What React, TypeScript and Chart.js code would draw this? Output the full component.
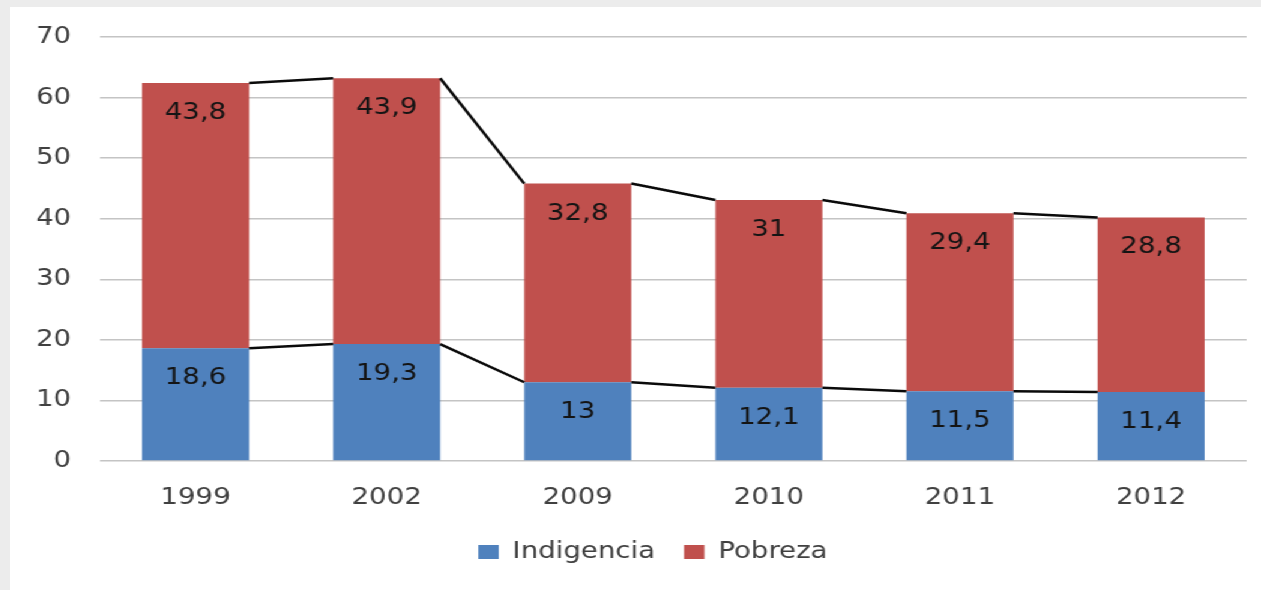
import { useEffect, useRef } from 'react';
import { Chart, registerables } from 'chart.js';

Chart.register(...registerables);

const categories = ['1999', '2002', '2009', '2010', '2011', '2012'];
const indigencia = [18.6, 19.3, 13, 12.1, 11.5, 11.4];
const pobreza = [43.8, 43.9, 32.8, 31, 29.4, 28.8];
const yMin = 0;
const yMax = 70;
const yStep = 10;

const CANVAS_W = 1042;
const CANVAS_H = 583;
const STRETCH = 1251 / CANVAS_W;
const FONT = '"DejaVu Sans", Verdana, sans-serif';

const overlayPlugin = {
  id: 'seriesLinesAndLabels',
  afterDatasetsDraw(chart: any) {
    const ctx = chart.ctx;
    ctx.save();
    ctx.strokeStyle = '#0a0a0a';
    ctx.lineWidth = 2.5;
    chart.data.datasets.forEach((_ds: any, di: number) => {
      const meta = chart.getDatasetMeta(di);
      for (let j = 0; j < meta.data.length - 1; j++) {
        const a = meta.data[j];
        const b = meta.data[j + 1];
        ctx.beginPath();
        ctx.moveTo(a.x + a.width / 2, a.y);
        ctx.lineTo(b.x - b.width / 2, b.y);
        ctx.stroke();
      }
    });
    ctx.font = `23px ${FONT}`;
    ctx.fillStyle = '#141414';
    ctx.textAlign = 'center';
    ctx.textBaseline = 'middle';
    chart.data.datasets.forEach((ds: any, di: number) => {
      const meta = chart.getDatasetMeta(di);
      meta.data.forEach((el: any, j: number) => {
        ctx.fillText(String(ds.data[j]).replace('.', ','), el.x, el.y + 30);
      });
    });
    ctx.restore();
  },
};

export default function App() {
  const ref = useRef<HTMLCanvasElement | null>(null);

  useEffect(() => {
    if (!ref.current) return;
    const chart = new Chart(ref.current, {
      type: 'bar',
      data: {
        labels: categories,
        datasets: [
          {
            label: 'Indigencia',
            data: indigencia,
            backgroundColor: '#4f81bd',
            borderWidth: 0,
            barPercentage: 0.56,
            categoryPercentage: 1,
          },
          {
            label: 'Pobreza',
            data: pobreza,
            backgroundColor: '#c0504d',
            borderWidth: 0,
            barPercentage: 0.56,
            categoryPercentage: 1,
          },
        ],
      },
      options: {
        responsive: false,
        animation: false,
        devicePixelRatio: 1,
        layout: { padding: { top: 30, left: 0, right: -29, bottom: 16.5 } },
        plugins: {
          tooltip: { enabled: false },
          legend: {
            position: 'bottom',
            labels: {
              boxWidth: 17,
              boxHeight: 14,
              padding: 24,
              color: '#404040',
              font: { family: FONT, size: 23 },
            },
          },
        },
        scales: {
          x: {
            stacked: true,
            grid: { display: false, drawTicks: false },
            border: { display: false },
            ticks: {
              padding: 23,
              color: '#404040',
              font: { family: FONT, size: 23 },
            },
            afterFit: (s: any) => {
              s.height = 55.5;
            },
          },
          y: {
            stacked: true,
            min: yMin,
            max: yMax,
            grid: { color: '#c4c4c4', lineWidth: 1.5, drawTicks: false },
            border: { display: false },
            ticks: {
              stepSize: yStep,
              padding: 24,
              color: '#404040',
              font: { family: FONT, size: 23 },
            },
            afterFit: (s: any) => {
              s.width = 75;
              s.paddingTop = 0;
              s.paddingBottom = 0;
            },
          },
          yr: {
            type: 'linear',
            position: 'right',
            grid: { display: false, drawTicks: false },
            border: { display: false },
            ticks: { display: false },
            afterFit: (s: any) => {
              s.width = 41;
              s.paddingTop = 0;
              s.paddingBottom = 0;
            },
          },
        },
      },
      plugins: [overlayPlugin],
    });
    return () => chart.destroy();
  }, []);

  return (
    <div style={{ position: 'fixed', inset: 0, background: '#ececec', overflow: 'hidden' }}>
      <div
        style={{
          position: 'absolute',
          left: 10,
          top: 7,
          width: CANVAS_W,
          height: CANVAS_H,
          background: '#ffffff',
          transform: `scaleX(${STRETCH})`,
          transformOrigin: '0 0',
        }}
      >
        <canvas ref={ref} width={CANVAS_W} height={CANVAS_H} style={{ display: 'block' }} />
      </div>
    </div>
  );
}
